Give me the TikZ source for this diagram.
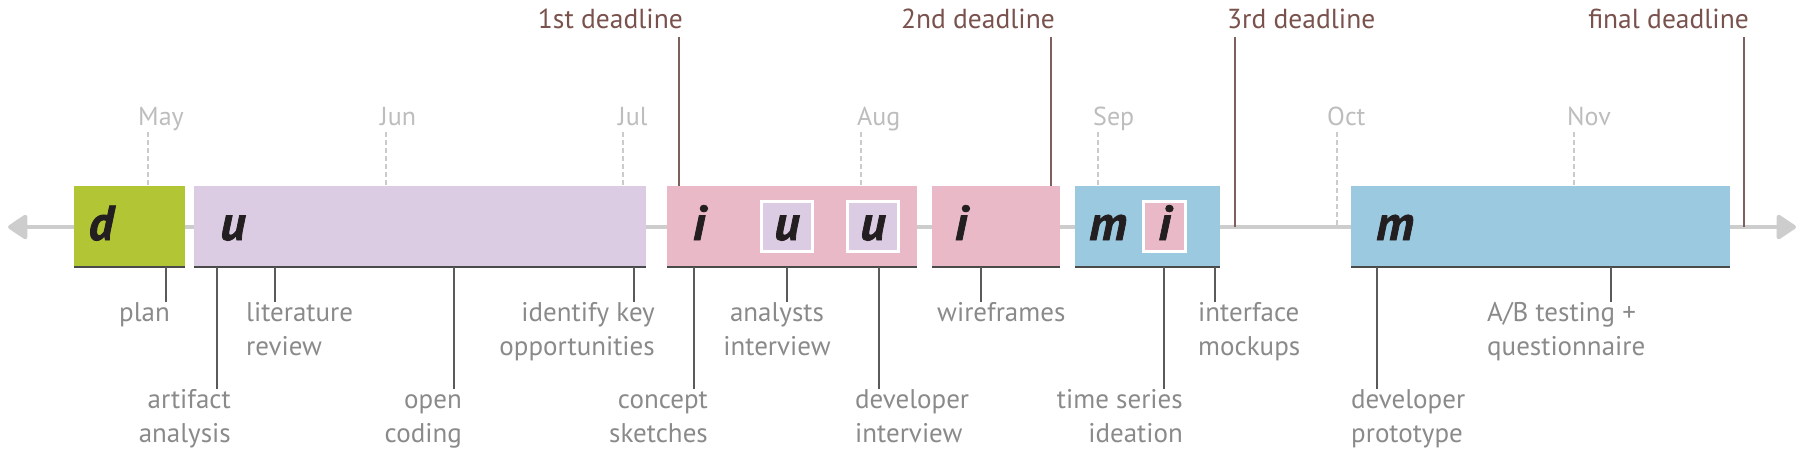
\documentclass[tikz,border=0pt]{standalone}
\usepackage{fontspec}
\setmainfont{PT Sans}
\newfontfamily\letterfont{PT Sans}[BoldItalicFeatures={FakeBold=1.6}]
\usetikzlibrary{arrows.meta}
\definecolor{cgreen}{HTML}{B2C535}
\definecolor{clav}{HTML}{DBCCE3}
\definecolor{cpink}{HTML}{E9B9C8}
\definecolor{cblue}{HTML}{9BC9E0}
\definecolor{cbrown}{HTML}{7A524D}
\definecolor{cdlline}{HTML}{7E5F5B}
\definecolor{clabel}{HTML}{8A8A8A}
\definecolor{cline}{HTML}{5A5A5A}
\definecolor{cedge}{HTML}{4A4A4A}
\definecolor{cmonth}{HTML}{BDBDBD}
\definecolor{cdash}{HTML}{CBCBCB}
\definecolor{caxis}{HTML}{CDCDCD}
\definecolor{cletter}{HTML}{231F20}
\begin{document}
\begin{tikzpicture}[x=1pt,y=-1pt,
  phase/.style={anchor=north west, inner sep=0pt, outer sep=0pt, minimum height=81pt},
  inbox/.style={inner sep=0pt, outer sep=0pt, minimum width=51pt, minimum height=50pt, draw=white, line width=3pt},
  letter/.style={anchor=base, inner sep=0pt, text=cletter, font=\letterfont\fontsize{49}{49}\selectfont\bfseries\itshape},
  lbl/.style={inner sep=0pt, text=clabel, font=\fontsize{27}{34.5}\selectfont},
  month/.style={anchor=base west, inner sep=0pt, text=cmonth, font=\fontsize{26}{30}\selectfont},
  ddl/.style={inner sep=0pt, text=cbrown, font=\fontsize{27.5}{30}\selectfont},
  callout/.style={draw=cline, line width=2.4pt},
  boxedge/.style={draw=cedge, line width=1.6pt},
  monthline/.style={draw=cdash, line width=1.4pt, dash pattern=on 5pt off 3pt},
  deadline/.style={draw=cdlline, line width=2.8pt},
  axisline/.style={draw=caxis, line width=4pt, arrows={Triangle[length=21pt,width=27pt,round]-Triangle[length=21pt,width=27pt,round]}}
]
\useasboundingbox (0,0) rectangle (1809,456);

% axis
\coordinate (axL) at (8,227);
\coordinate (axR) at (1796,227);
\draw[axisline] (axL) -- (axR);

% phase boxes
\node[phase, fill=cgreen, minimum width=111pt] (dbox) at (74,186) {};
\node[phase, fill=clav, minimum width=452pt] (ubox) at (194,186) {};
\node[phase, fill=cpink, minimum width=250pt] (ibox1) at (667,186) {};
\node[phase, fill=cpink, minimum width=128pt] (ibox2) at (932,186) {};
\node[phase, fill=cblue, minimum width=145pt] (mbox1) at (1075,186) {};
\node[phase, fill=cblue, minimum width=379pt] (mbox2) at (1351,186) {};
\foreach \b in {dbox,ubox,ibox1,ibox2,mbox1,mbox2}
  \draw[boxedge] (\b.south west) -- (\b.south east);

% inner boxes
\node[inbox, fill=clav] (ub1) at (787,226.5) {};
\node[inbox, fill=clav] (ub2) at (873,226.5) {};
\node[inbox, fill=cpink, minimum width=42pt] (ib3) at (1164.5,226.5) {};

% letters
\node[letter] (ld) at (101,240) {d};
\node[letter] (lu) at (233,240) {u};
\node[letter] (li1) at (699,240) {i};
\node[letter] (lu1) at (787,240) {u};
\node[letter] (lu2) at (873,240) {u};
\node[letter] (li2) at (961,240) {i};
\node[letter] (lm1) at (1108,240) {m};
\node[letter] (li3) at (1164.5,240) {i};
\node[letter] (lm2) at (1395,240) {m};

% months
\node[month] (may) at (138,125) {May};
\node[month] (jun) at (380,125) {Jun};
\node[month] (jul) at (618,125) {Jul};
\node[month] (aug) at (857,125) {Aug};
\node[month] (sep) at (1093,125) {Sep};
\node[month] (oct) at (1327,125) {Oct};
\node[month] (nov) at (1567,125) {Nov};
\coordinate (tmay) at (148,132);
\coordinate (tjun) at (386,132);
\coordinate (tjul) at (623,132);
\coordinate (taug) at (861,132);
\coordinate (tsep) at (1098,132);
\coordinate (toct) at (1337,132);
\coordinate (tnov) at (1574,132);
\draw[monthline] (tmay) -- (dbox.north -| tmay);
\draw[monthline] (tjun) -- (ubox.north -| tjun);
\draw[monthline] (tjul) -- (ubox.north -| tjul);
\draw[monthline] (taug) -- (ibox1.north -| taug);
\draw[monthline] (tsep) -- (mbox1.north -| tsep);
\draw[monthline] (toct) -- (toct |- axL);
\draw[monthline] (tnov) -- (mbox2.north -| tnov);

% deadlines
\node[ddl, anchor=base east] (dl1) at (683,28) {1st deadline};
\node[ddl, anchor=base east] (dl2) at (1055,28) {2nd deadline};
\node[ddl, anchor=base west] (dl3) at (1227,28) {3rd deadline};
\node[ddl, anchor=base east] (dl4) at (1749,28) {final deadline};
\coordinate (k1) at (679,37);
\coordinate (k2) at (1051,37);
\coordinate (k3) at (1235,37);
\coordinate (k4) at (1744,37);
\draw[deadline] (k1) -- (ibox1.north -| k1);
\draw[deadline] (k2) -- (ibox2.north -| k2);
\draw[deadline] (k3) -- (k3 |- axL);
\draw[deadline] (k4) -- (k4 |- axL);

% callout labels
\node[lbl, anchor=north east] (plan) at (170,302) {\vphantom{l}plan};
\node[lbl, anchor=north east, align=right] (artifact) at (231,389) {\vphantom{l}artifact\\analysis};
\node[lbl, anchor=north west, align=left] (litrev) at (246,302) {\vphantom{l}literature\\review};
\node[lbl, anchor=north east, align=right] (opencod) at (462,389) {\vphantom{l}open\\coding};
\node[lbl, anchor=north east, align=right] (identify) at (655,302) {\vphantom{l}identify key\\opportunities};
\node[lbl, anchor=north east, align=right] (concept) at (708,389) {\vphantom{l}concept\\sketches};
\node[lbl, anchor=north, align=center] (analysts) at (777,302) {\vphantom{l}analysts\\interview};
\node[lbl, anchor=north west, align=left] (devint) at (855,389) {\vphantom{l}developer\\interview};
\node[lbl, anchor=north west] (wire) at (937,302) {\vphantom{l}wireframes};
\node[lbl, anchor=north east, align=right] (tsi) at (1183,389) {\vphantom{l}time series\\ideation};
\node[lbl, anchor=north west, align=left] (mock) at (1198,302) {\vphantom{l}interface\\mockups};
\node[lbl, anchor=north west, align=left] (devproto) at (1351,389) {\vphantom{l}developer\\prototype};
\node[lbl, anchor=north west, align=left] (abtest) at (1487,302) {\vphantom{l}A/B testing +\\questionnaire};

% callout connectors
\coordinate (x1) at (166,0);
\coordinate (x2) at (217,0);
\coordinate (x3) at (275,0);
\coordinate (x4) at (454,0);
\coordinate (x5) at (634,0);
\coordinate (x6) at (694,0);
\coordinate (x7) at (787,0);
\coordinate (x8) at (879,0);
\coordinate (x9) at (981,0);
\coordinate (x10) at (1164,0);
\coordinate (x11) at (1215,0);
\coordinate (x12) at (1377,0);
\coordinate (x13) at (1611,0);
\draw[callout] (dbox.south -| x1) -- (plan.north -| x1);
\draw[callout] (ubox.south -| x2) -- (artifact.north -| x2);
\draw[callout] (ubox.south -| x3) -- (litrev.north -| x3);
\draw[callout] (ubox.south -| x4) -- (opencod.north -| x4);
\draw[callout] (ubox.south -| x5) -- (identify.north -| x5);
\draw[callout] (ibox1.south -| x6) -- (concept.north -| x6);
\draw[callout] (ibox1.south -| x7) -- (analysts.north -| x7);
\draw[callout] (ibox1.south -| x8) -- (devint.north -| x8);
\draw[callout] (ibox2.south -| x9) -- (wire.north -| x9);
\draw[callout] (mbox1.south -| x10) -- (tsi.north -| x10);
\draw[callout] (mbox1.south -| x11) -- (mock.north -| x11);
\draw[callout] (mbox2.south -| x12) -- (devproto.north -| x12);
\draw[callout] (mbox2.south -| x13) -- (abtest.north -| x13);
\end{tikzpicture}
\end{document}
